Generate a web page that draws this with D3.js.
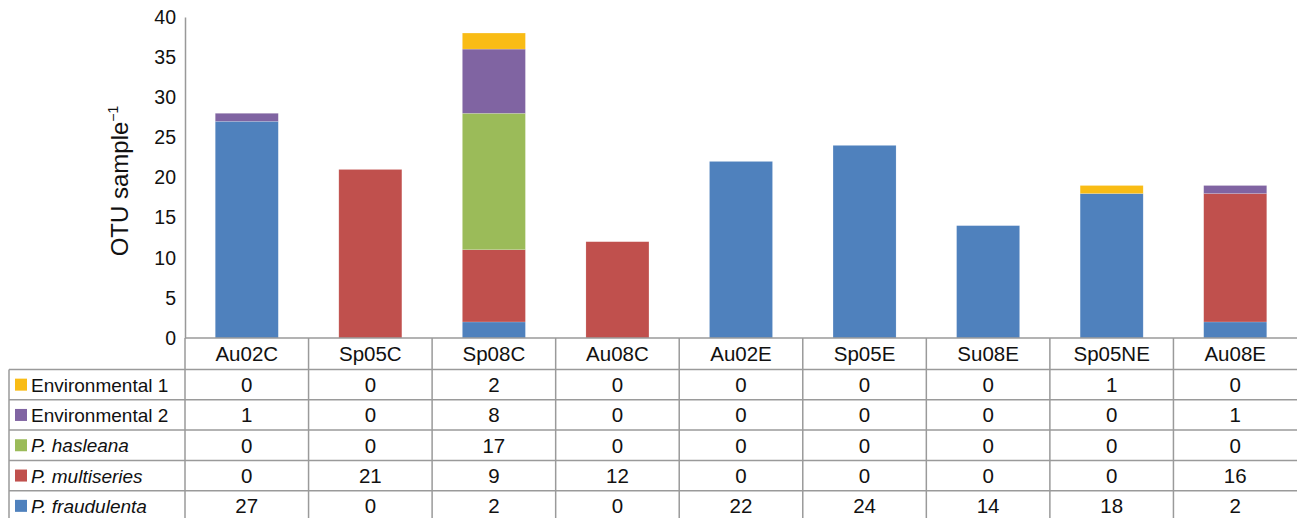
<script src="https://d3js.org/d3.v7.min.js"></script>
<style>
  body { margin: 0; background: #fff; }
  svg text { font-family: "Liberation Sans", Arial, sans-serif; fill: #111; }
</style>
<svg id="chart" width="1297" height="518"></svg>
<script>
  const samples = ["Au02C","Sp05C","Sp08C","Au08C","Au02E","Sp05E","Su08E","Sp05NE","Au08E"]
  // table order (top to bottom)
  const seriesNames = ["Environmental 1","Environmental 2","P. hasleana","P. multiseries","P. fraudulenta"]
  const italicSeries = [false, false, true, true, true]
  const seriesColors = ["#F9BC15","#8064A2","#9BBB59","#C0504D","#4F81BD"]
  const env1 = [0,0,2,0,0,0,0,1,0]
  const env2 = [1,0,8,0,0,0,0,0,1]
  const hasleana = [0,0,17,0,0,0,0,0,0]
  const multiseries = [0,21,9,12,0,0,0,0,16]
  const fraudulenta = [27,0,2,0,22,24,14,18,2]
  const yTicks = [0,5,10,15,20,25,30,35,40]

  const seriesValues = [env1, env2, hasleana, multiseries, fraudulenta]
  const svg = d3.select("#chart")
  const margin = {top:17, left:185, right:0}
  const plotBottom = 338
  const width = 1297 - margin.left - margin.right

  const x = d3.scaleBand().domain(samples).range([margin.left, margin.left + width]).paddingInner(0).paddingOuter(0)
  const y = d3.scaleLinear().domain([0,40]).range([plotBottom, margin.top])

  // rows for stacking: bottom series first
  const rows = samples.map((s, i) => {
    const r = {sample: s}
    seriesNames.forEach((n, j) => { r[n] = seriesValues[j][i] })
    return r
  })
  const stack = d3.stack().keys(seriesNames.slice().reverse())(rows)
  const colorOf = d3.scaleOrdinal().domain(seriesNames).range(seriesColors)

  const barW = x.bandwidth() * 0.51
  svg.append("g").selectAll("g")
    .data(stack).enter()
    .append("g")
    .attr("fill", d => colorOf(d.key))
    .selectAll("rect")
    .data(d => d).enter()
    .append("rect")
    .attr("x", d => x(d.data.sample) + (x.bandwidth() - barW) / 2)
    .attr("width", barW)
    .attr("y", d => y(d[1]))
    .attr("height", d => y(d[0]) - y(d[1]))
    .attr("stroke", "rgba(255,255,255,0.25)")
    .attr("stroke-width", 0.6)

  // y axis
  const yAxis = svg.append("g")
    .attr("transform", "translate(" + margin.left + ",0)")
    .call(d3.axisLeft(y).tickValues(yTicks).tickSize(0).tickPadding(9))
  yAxis.select(".domain").attr("stroke", "#999").attr("stroke-width", 1.5)
  yAxis.selectAll("text").style("font-size", "19.5px").attr("fill", "#111")
    .style("font-family", "'Liberation Sans', Arial, sans-serif")

  // y axis title
  const yt = svg.append("text")
    .attr("transform", "translate(128,181) rotate(-90)")
    .style("text-anchor", "middle")
    .style("font-size", "24px")
  yt.append("tspan").text("OTU sample")
  yt.append("tspan").text("\u22121").attr("dy", -10).style("font-size", "14px")

  // data table
  const rowH = 30.3
  const headerTop = plotBottom
  const tableTop = 369.5
  const legendLeft = 9
  const lineColor = "#9a9a9a"
  const grid = svg.append("g").attr("stroke", lineColor).attr("stroke-width", 1.5)

  grid.append("line").attr("x1", margin.left).attr("x2", 1297).attr("y1", headerTop).attr("y2", headerTop)
  samples.forEach((s, i) => {
    grid.append("line").attr("x1", x(s)).attr("x2", x(s)).attr("y1", headerTop).attr("y2", 518)
  })
  for (let k = 0; k < seriesNames.length; k++) {
    grid.append("line").attr("x1", legendLeft).attr("x2", 1297)
      .attr("y1", tableTop + k * rowH).attr("y2", tableTop + k * rowH)
  }
  grid.append("line").attr("x1", legendLeft).attr("x2", legendLeft).attr("y1", tableTop).attr("y2", 518)

  svg.selectAll(".head")
    .data(samples).enter()
    .append("text")
    .attr("x", d => x(d) + x.bandwidth() / 2)
    .attr("y", (headerTop + tableTop) / 2 + 7.5)
    .style("text-anchor", "middle")
    .style("font-size", "20.5px")
    .text(d => d)

  seriesNames.forEach((n, k) => {
    const cy = tableTop + k * rowH + rowH / 2
    svg.append("rect")
      .attr("x", 15).attr("y", cy - 6).attr("width", 12).attr("height", 12)
      .attr("fill", colorOf(n))
    svg.append("text")
      .attr("x", 31).attr("y", cy + 7)
      .style("font-size", "19px")
      .style("font-style", italicSeries[k] ? "italic" : "normal")
      .text(n)
    svg.selectAll(".v" + k)
      .data(seriesValues[k]).enter()
      .append("text")
      .attr("x", (d, i) => x(samples[i]) + x.bandwidth() / 2)
      .attr("y", cy + 7.5)
      .style("text-anchor", "middle")
      .style("font-size", "20.5px")
      .text(d => d)
  })
</script>
